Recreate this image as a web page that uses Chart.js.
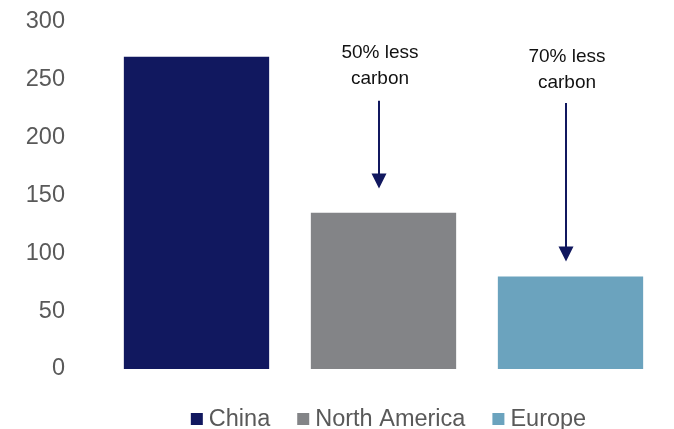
<!DOCTYPE html>
<html><head><meta charset="utf-8">
<script src="https://cdn.jsdelivr.net/npm/chart.js@4.4.0/dist/chart.umd.min.js"></script>
<style>html,body{margin:0;padding:0;background:#fff}#wrap{width:674px;height:429px}</style>
</head><body><div id="wrap"><canvas id="c" width="674" height="429"></canvas></div>
<script>
const categories = ['China', 'North America', 'Europe'];
const values = [270, 135, 80];
const colors = ['#11185F', '#838487', '#6BA3BE'];
const yTicks = [0, 50, 100, 150, 200, 250, 300];
const noteLines = [['50% less', 'carbon'], ['70% less', 'carbon']];
const noteCategory = [1, 2];
const noteArrowFrom = [232, 230];
const noteArrowTo = [156, 93];
const noteTextAt = [273, 270];

const FONT = "'Liberation Sans', Arial, sans-serif";
const FS = 23.5;

const notesPlugin = {
  id: 'notes',
  afterDatasetsDraw(chart) {
    const ctx = chart.ctx;
    const xs = chart.scales.x, ys = chart.scales.y;
    ctx.save();
    for (let i = 0; i < noteLines.length; i++) {
      const x = Math.round(xs.getPixelForValue(noteCategory[i])) - 5;
      const y0 = ys.getPixelForValue(noteArrowFrom[i]);
      const y1 = ys.getPixelForValue(noteArrowTo[i]);
      const headH = 15, headW = 15;
      ctx.strokeStyle = '#11185F';
      ctx.fillStyle = '#11185F';
      ctx.lineWidth = 2;
      ctx.beginPath();
      ctx.moveTo(x, y0);
      ctx.lineTo(x, y1 - headH + 1);
      ctx.stroke();
      ctx.beginPath();
      ctx.moveTo(x - headW / 2, y1 - headH);
      ctx.lineTo(x + headW / 2, y1 - headH);
      ctx.lineTo(x, y1);
      ctx.closePath();
      ctx.fill();
      ctx.fillStyle = '#111111';
      ctx.font = '19px ' + FONT;
      ctx.textAlign = 'center';
      ctx.textBaseline = 'middle';
      const ty = ys.getPixelForValue(noteTextAt[i]);
      noteLines[i].forEach((t, k) => ctx.fillText(t, x + 1, ty + k * 26));
    }
    ctx.restore();
  }
};

const legendPlugin = {
  id: 'customLegend',
  afterDraw(chart) {
    const ctx = chart.ctx;
    const ca = chart.chartArea;
    ctx.save();
    ctx.font = FS + 'px ' + FONT;
    const box = 12, gapText = 6, gapItem = 27;
    const widths = categories.map(c => ctx.measureText(c).width);
    const total = widths.reduce((a, w) => a + box + gapText + w, 0) + gapItem * (categories.length - 1);
    let x = (ca.left + ca.right) / 2 + 5 - total / 2;
    const cy = 419;
    ctx.textBaseline = 'middle';
    ctx.textAlign = 'left';
    categories.forEach((c, i) => {
      ctx.fillStyle = colors[i];
      ctx.fillRect(x, cy - box / 2, box, box);
      x += box + gapText;
      ctx.fillStyle = '#595959';
      ctx.fillText(c, x, cy + 1);
      x += widths[i] + gapItem;
    });
    ctx.restore();
  }
};

new Chart(document.getElementById('c'), {
  type: 'bar',
  data: {
    labels: categories,
    datasets: [{
      data: values,
      backgroundColor: colors,
      borderWidth: 0,
      categoryPercentage: 1,
      barPercentage: 0.777
    }]
  },
  options: {
    responsive: false,
    animation: false,
    devicePixelRatio: 1,
    layout: { padding: { left: 0, right: 10, top: 22, bottom: 60 } },
    scales: {
      x: { display: false },
      y: {
        min: 0, max: 300,
        afterBuildTicks(scale) { scale.ticks = yTicks.map(v => ({ value: v })); },
        afterFit(scale) { scale.width = 103; scale.paddingTop = 0; scale.paddingBottom = 0; },
        grid: { display: false, drawTicks: false },
        border: { display: false },
        ticks: { color: '#595959', font: { size: FS, family: FONT }, padding: 38 }
      }
    },
    plugins: {
      tooltip: { enabled: false },
      legend: { display: false }
    }
  },
  plugins: [notesPlugin, legendPlugin]
});
</script></body></html>
